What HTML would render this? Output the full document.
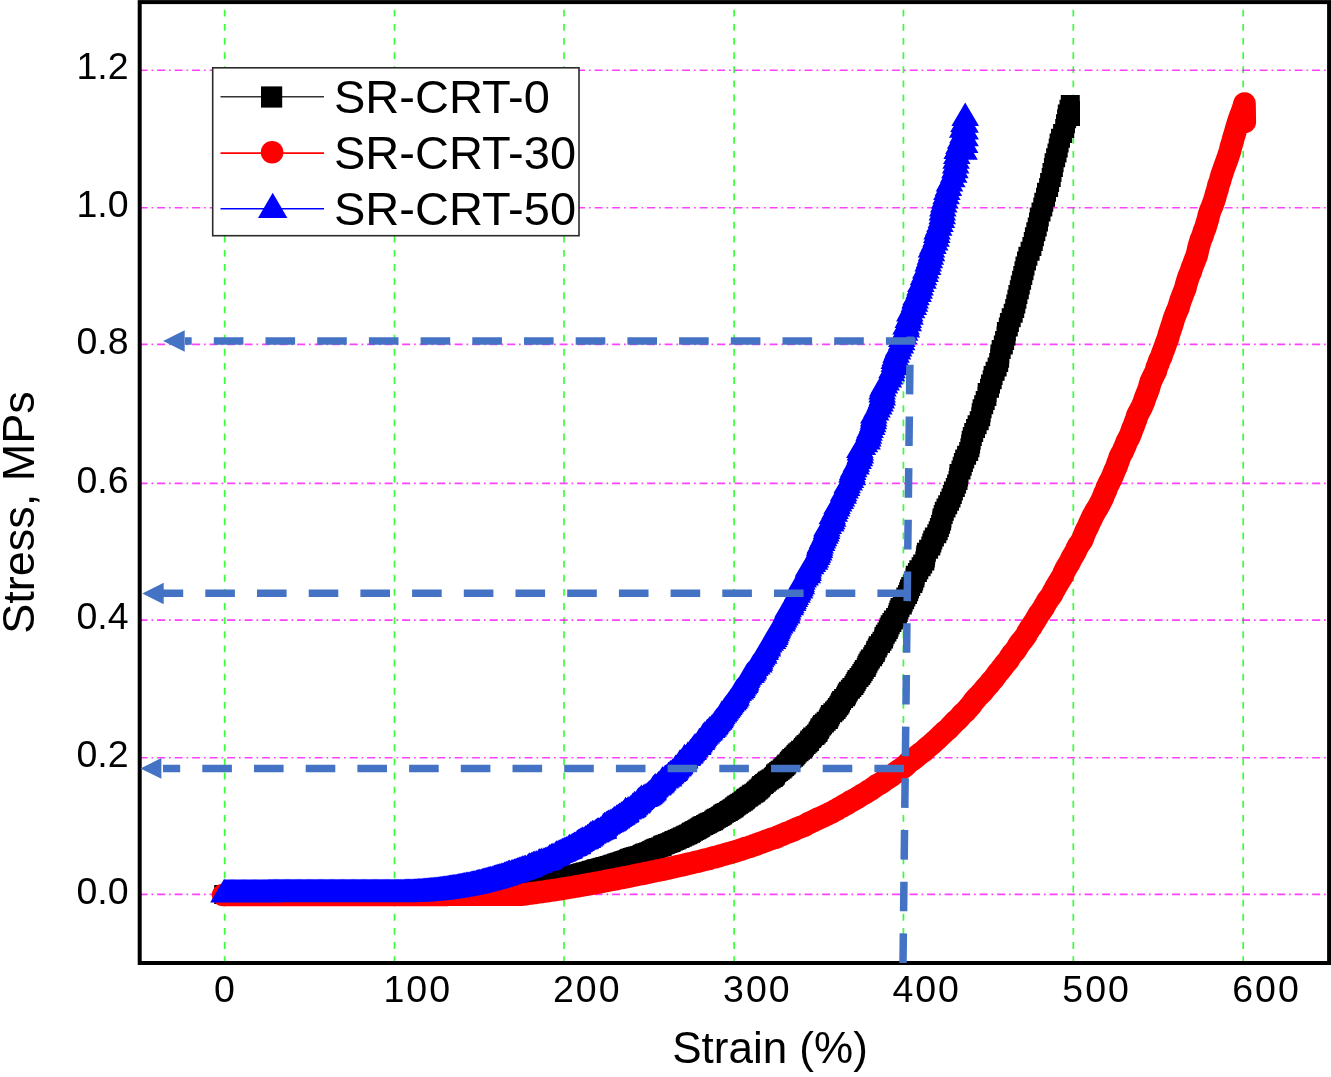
<!DOCTYPE html>
<html><head><meta charset="utf-8"><title>Stress-Strain</title>
<style>html,body{margin:0;padding:0;background:#fff}svg{display:block;filter:blur(0.45px)}text{font-family:"Liberation Sans",sans-serif;fill:#000}</style></head><body>
<svg width="1331" height="1077" viewBox="0 0 1331 1077">
<rect width="1331" height="1077" fill="#fff"/>
<g stroke="#00ff00" stroke-width="1.7" stroke-opacity="0.78" stroke-dasharray="6.8 7.325" fill="none">
<path d="M224.7,963V1.5"/>
<path d="M394.5,963V1.5"/>
<path d="M564,963V1.5"/>
<path d="M734.1,963V1.5"/>
<path d="M903.4,963V1.5"/>
<path d="M1073.3,963V1.5"/>
<path d="M1243.2,963V1.5"/>
</g>
<g stroke="#ff00ff" stroke-width="1.6" stroke-opacity="0.75" stroke-dasharray="8 3.9 1.7 3.9" fill="none">
<path d="M139.6,894.4H1329"/>
<path d="M139.6,757.8H1329"/>
<path d="M139.6,620.1H1329"/>
<path d="M139.6,483.4H1329"/>
<path d="M139.6,344.4H1329"/>
<path d="M139.6,207.8H1329"/>
<path d="M139.6,70.2H1329"/>
</g>
<path d="M214.2,885h19v19h-19zM214.6,885h19v19h-19zM215.9,885h19v19h-19zM217.3,885h19v19h-19zM218.6,885h19v19h-19zM220,885h19v19h-19zM221.3,885h19v19h-19zM222.7,885h19v19h-19zM224,885h19v19h-19zM225.4,885h19v19h-19zM226.7,885h19v19h-19zM228.1,885h19v19h-19zM229.4,885h19v19h-19zM230.8,885h19v19h-19zM232.1,885h19v19h-19zM233.5,885h19v19h-19zM234.8,885h19v19h-19zM236.2,885h19v19h-19zM237.5,885h19v19h-19zM238.9,885h19v19h-19zM240.2,885h19v19h-19zM241.6,885h19v19h-19zM242.9,885h19v19h-19zM244.3,885h19v19h-19zM245.6,885h19v19h-19zM247,885h19v19h-19zM248.3,885h19v19h-19zM249.7,885h19v19h-19zM251,885h19v19h-19zM252.4,885h19v19h-19zM253.7,885h19v19h-19zM255.1,885h19v19h-19zM256.4,885h19v19h-19zM257.8,885h19v19h-19zM259.1,885h19v19h-19zM260.5,885h19v19h-19zM261.8,885h19v19h-19zM263.2,885h19v19h-19zM264.5,885h19v19h-19zM265.9,885h19v19h-19zM267.2,885h19v19h-19zM268.6,885h19v19h-19zM269.9,885h19v19h-19zM271.3,885h19v19h-19zM272.6,885h19v19h-19zM274,885h19v19h-19zM275.3,885h19v19h-19zM276.7,885h19v19h-19zM278,885h19v19h-19zM279.4,885h19v19h-19zM280.7,885h19v19h-19zM282.1,885h19v19h-19zM283.4,885h19v19h-19zM284.8,885h19v19h-19zM286.1,885h19v19h-19zM287.5,885h19v19h-19zM288.8,885h19v19h-19zM290.2,885h19v19h-19zM291.5,885h19v19h-19zM292.9,885h19v19h-19zM294.2,885h19v19h-19zM295.6,885h19v19h-19zM296.9,885h19v19h-19zM298.3,885h19v19h-19zM299.6,885h19v19h-19zM301,885h19v19h-19zM302.3,885h19v19h-19zM303.7,885h19v19h-19zM305,885h19v19h-19zM306.4,885h19v19h-19zM307.7,885h19v19h-19zM309.1,885h19v19h-19zM310.4,885h19v19h-19zM311.8,885h19v19h-19zM313.1,885h19v19h-19zM314.5,885h19v19h-19zM315.8,885h19v19h-19zM317.2,885h19v19h-19zM318.5,885h19v19h-19zM319.9,885h19v19h-19zM321.2,885h19v19h-19zM322.6,885h19v19h-19zM323.9,885h19v19h-19zM325.3,885h19v19h-19zM326.6,885h19v19h-19zM328,885h19v19h-19zM329.3,885h19v19h-19zM330.7,885h19v19h-19zM332,885h19v19h-19zM333.4,885h19v19h-19zM334.7,885h19v19h-19zM336.1,885h19v19h-19zM337.4,885h19v19h-19zM338.8,885h19v19h-19zM340.1,885h19v19h-19zM341.5,885h19v19h-19zM342.8,885h19v19h-19zM344.2,885h19v19h-19zM345.5,885h19v19h-19zM346.9,885h19v19h-19zM348.2,885h19v19h-19zM349.6,885h19v19h-19zM350.9,885h19v19h-19zM352.3,885h19v19h-19zM353.6,885h19v19h-19zM355,885h19v19h-19zM356.3,885h19v19h-19zM357.7,885h19v19h-19zM359,885h19v19h-19zM360.4,885h19v19h-19zM361.7,885h19v19h-19zM363.1,885h19v19h-19zM364.4,885h19v19h-19zM365.8,885h19v19h-19zM367.1,885h19v19h-19zM368.5,885h19v19h-19zM369.8,885h19v19h-19zM371.2,885h19v19h-19zM372.5,885h19v19h-19zM373.9,885h19v19h-19zM375.2,885h19v19h-19zM376.6,885h19v19h-19zM377.9,885h19v19h-19zM379.3,885h19v19h-19zM380.6,885h19v19h-19zM382,885h19v19h-19zM383.3,885h19v19h-19zM384.7,885h19v19h-19zM386,885h19v19h-19zM387.4,885h19v19h-19zM388.7,885h19v19h-19zM390.1,885h19v19h-19zM391.4,885h19v19h-19zM392.8,885h19v19h-19zM394.1,885h19v19h-19zM395.5,885h19v19h-19zM396.8,885h19v19h-19zM398.2,885h19v19h-19zM399.5,885h19v19h-19zM400.9,885h19v19h-19zM402.2,885h19v19h-19zM403.6,885h19v19h-19zM404.9,885h19v19h-19zM406.3,885h19v19h-19zM407.6,885h19v19h-19zM409,885h19v19h-19zM410.3,885h19v19h-19zM411.7,885h19v19h-19zM413,884.9h19v19h-19zM414.4,884.9h19v19h-19zM415.7,884.8h19v19h-19zM417.1,884.8h19v19h-19zM418.4,884.8h19v19h-19zM419.8,884.7h19v19h-19zM421.1,884.7h19v19h-19zM422.5,884.6h19v19h-19zM423.8,884.6h19v19h-19zM425.2,884.5h19v19h-19zM426.5,884.4h19v19h-19zM427.9,884.4h19v19h-19zM429.2,884.3h19v19h-19zM430.6,884.2h19v19h-19zM431.9,884.2h19v19h-19zM433.2,884.1h19v19h-19zM434.6,884h19v19h-19zM435.9,884h19v19h-19zM437.3,883.9h19v19h-19zM438.6,883.8h19v19h-19zM440,883.7h19v19h-19zM441.4,883.6h19v19h-19zM442.7,883.5h19v19h-19zM444.1,883.5h19v19h-19zM445.5,883.4h19v19h-19zM446.8,883.3h19v19h-19zM448.1,883.2h19v19h-19zM449.4,883.1h19v19h-19zM450.8,883h19v19h-19zM452.2,882.9h19v19h-19zM453.5,882.8h19v19h-19zM454.8,882.7h19v19h-19zM456.1,882.6h19v19h-19zM457.5,882.4h19v19h-19zM458.8,882.3h19v19h-19zM460.2,882.2h19v19h-19zM461.5,882.1h19v19h-19zM462.8,882h19v19h-19zM464.2,881.8h19v19h-19zM465.6,881.7h19v19h-19zM467,881.6h19v19h-19zM468.4,881.5h19v19h-19zM469.7,881.3h19v19h-19zM471,881.2h19v19h-19zM472.3,881.1h19v19h-19zM473.7,880.9h19v19h-19zM475.2,880.8h19v19h-19zM476.7,880.6h19v19h-19zM477.8,880.5h19v19h-19zM479.1,880.3h19v19h-19zM480.3,880.2h19v19h-19zM481.6,880h19v19h-19zM482.9,879.9h19v19h-19zM484.3,879.7h19v19h-19zM485.7,879.5h19v19h-19zM487.1,879.4h19v19h-19zM488.4,879.2h19v19h-19zM489.9,879h19v19h-19zM491.3,878.9h19v19h-19zM492.7,878.7h19v19h-19zM493.8,878.5h19v19h-19zM495.3,878.3h19v19h-19zM496.7,878.2h19v19h-19zM498.2,878h19v19h-19zM499.5,877.8h19v19h-19zM500.7,877.6h19v19h-19zM501.9,877.4h19v19h-19zM503.3,877.2h19v19h-19zM504.9,877h19v19h-19zM506.5,876.8h19v19h-19zM507.9,876.6h19v19h-19zM509.1,876.4h19v19h-19zM510.1,876.2h19v19h-19zM511.5,876h19v19h-19zM512.7,875.8h19v19h-19zM514.1,875.6h19v19h-19zM515.3,875.3h19v19h-19zM517,875.1h19v19h-19zM518.7,874.9h19v19h-19zM519.9,874.7h19v19h-19zM521,874.4h19v19h-19zM521.9,874.2h19v19h-19zM523.5,874h19v19h-19zM525.3,873.7h19v19h-19zM526.7,873.5h19v19h-19zM528.1,873.2h19v19h-19zM529.1,873h19v19h-19zM530.5,872.8h19v19h-19zM531.6,872.5h19v19h-19zM532.8,872.2h19v19h-19zM534.2,872h19v19h-19zM535.3,871.7h19v19h-19zM537.1,871.5h19v19h-19zM538.5,871.2h19v19h-19zM540.3,870.9h19v19h-19zM541.8,870.7h19v19h-19zM543,870.4h19v19h-19zM544,870.1h19v19h-19zM545.3,869.8h19v19h-19zM546.8,869.5h19v19h-19zM548,869.3h19v19h-19zM548.7,869h19v19h-19zM550.4,868.7h19v19h-19zM552.2,868.4h19v19h-19zM553.5,868.1h19v19h-19zM554.5,867.8h19v19h-19zM555.8,867.5h19v19h-19zM557.4,867.2h19v19h-19zM559.1,866.9h19v19h-19zM560.9,866.6h19v19h-19zM562,866.2h19v19h-19zM562.6,865.9h19v19h-19zM563.5,865.6h19v19h-19zM565.5,865.3h19v19h-19zM567.3,864.9h19v19h-19zM568.9,864.6h19v19h-19zM570,864.3h19v19h-19zM571,863.9h19v19h-19zM572.4,863.6h19v19h-19zM573.2,863.3h19v19h-19zM575,862.9h19v19h-19zM575.7,862.6h19v19h-19zM577.6,862.2h19v19h-19zM579.2,861.8h19v19h-19zM580.9,861.5h19v19h-19zM581.8,861.1h19v19h-19zM582.6,860.8h19v19h-19zM584.1,860.4h19v19h-19zM585.4,860h19v19h-19zM586.5,859.6h19v19h-19zM587.1,859.3h19v19h-19zM589.1,858.9h19v19h-19zM590.6,858.5h19v19h-19zM592.5,858.1h19v19h-19zM593.5,857.7h19v19h-19zM595.2,857.3h19v19h-19zM596.2,856.9h19v19h-19zM598.2,856.5h19v19h-19zM599.9,856.1h19v19h-19zM601.7,855.7h19v19h-19zM602.5,855.2h19v19h-19zM603.7,854.8h19v19h-19zM604.8,854.4h19v19h-19zM606.6,854h19v19h-19zM607.3,853.5h19v19h-19zM609.1,853.1h19v19h-19zM609.9,852.7h19v19h-19zM611.6,852.2h19v19h-19zM613.2,851.8h19v19h-19zM614.3,851.3h19v19h-19zM615.8,850.9h19v19h-19zM616.7,850.4h19v19h-19zM618.5,850h19v19h-19zM619.3,849.5h19v19h-19zM620.1,849h19v19h-19zM621.3,848.5h19v19h-19zM623,848.1h19v19h-19zM624.4,847.6h19v19h-19zM626.2,847.1h19v19h-19zM627.9,846.6h19v19h-19zM630.3,846.1h19v19h-19zM631.9,845.6h19v19h-19zM633.1,845.1h19v19h-19zM633.5,844.6h19v19h-19zM634.9,844.1h19v19h-19zM635.6,843.6h19v19h-19zM637.7,843h19v19h-19zM639,842.5h19v19h-19zM640.8,842h19v19h-19zM641.8,841.4h19v19h-19zM642.3,840.9h19v19h-19zM643.6,840.4h19v19h-19zM644.6,839.8h19v19h-19zM645.9,839.3h19v19h-19zM646.8,838.7h19v19h-19zM648.7,838.1h19v19h-19zM651,837.6h19v19h-19zM652.4,837h19v19h-19zM652.8,836.4h19v19h-19zM653.4,835.8h19v19h-19zM654.7,835.3h19v19h-19zM656.3,834.7h19v19h-19zM658,834.1h19v19h-19zM659.7,833.5h19v19h-19zM661.3,832.9h19v19h-19zM662.2,832.2h19v19h-19zM663.9,831.6h19v19h-19zM665.1,831h19v19h-19zM666.6,830.4h19v19h-19zM667.8,829.7h19v19h-19zM669.8,829.1h19v19h-19zM671,828.5h19v19h-19zM672.6,827.8h19v19h-19zM673.3,827.2h19v19h-19zM675.4,826.5h19v19h-19zM676.4,825.8h19v19h-19zM678,825.2h19v19h-19zM679.3,824.5h19v19h-19zM681,823.8h19v19h-19zM681.8,823.1h19v19h-19zM682.3,822.4h19v19h-19zM684,821.7h19v19h-19zM685.3,821h19v19h-19zM686.9,820.3h19v19h-19zM688.2,819.6h19v19h-19zM689.5,818.8h19v19h-19zM690.7,818.1h19v19h-19zM691.2,817.4h19v19h-19zM692.6,816.6h19v19h-19zM694.3,815.9h19v19h-19zM696.1,815.1h19v19h-19zM697.7,814.3h19v19h-19zM698.6,813.6h19v19h-19zM700.3,812.8h19v19h-19zM702.2,812h19v19h-19zM704.1,811.2h19v19h-19zM704.6,810.4h19v19h-19zM705.7,809.6h19v19h-19zM707.1,808.8h19v19h-19zM708.8,808h19v19h-19zM710.5,807.1h19v19h-19zM711.6,806.3h19v19h-19zM713,805.5h19v19h-19zM713.5,804.6h19v19h-19zM715,803.7h19v19h-19zM716.7,802.9h19v19h-19zM718.8,802h19v19h-19zM719.8,801.1h19v19h-19zM721.4,800.2h19v19h-19zM722.7,799.3h19v19h-19zM724.3,798.4h19v19h-19zM724.9,797.5h19v19h-19zM726.4,796.6h19v19h-19zM727.4,795.6h19v19h-19zM729,794.7h19v19h-19zM730.3,793.7h19v19h-19zM732.1,792.8h19v19h-19zM733.7,791.8h19v19h-19zM734.7,790.8h19v19h-19zM736,789.8h19v19h-19zM736.7,788.8h19v19h-19zM738.6,787.8h19v19h-19zM739.7,786.8h19v19h-19zM741.6,785.8h19v19h-19zM742.3,784.8h19v19h-19zM744.4,783.7h19v19h-19zM746,782.7h19v19h-19zM746.9,781.6h19v19h-19zM748.4,780.5h19v19h-19zM749.3,779.4h19v19h-19zM750.7,778.4h19v19h-19zM751.5,777.3h19v19h-19zM752.2,776.1h19v19h-19zM754.1,775h19v19h-19zM755.1,773.9h19v19h-19zM756.8,772.8h19v19h-19zM757.9,771.6h19v19h-19zM759.7,770.4h19v19h-19zM761.6,769.3h19v19h-19zM763.7,768.1h19v19h-19zM764.7,766.9h19v19h-19zM765.8,765.7h19v19h-19zM766,764.5h19v19h-19zM767.4,763.3h19v19h-19zM769.2,762h19v19h-19zM770.7,760.8h19v19h-19zM772.6,759.5h19v19h-19zM773.6,758.3h19v19h-19zM775.2,757h19v19h-19zM776.4,755.7h19v19h-19zM777.3,754.4h19v19h-19zM779.4,753.1h19v19h-19zM779.9,751.8h19v19h-19zM781.1,750.5h19v19h-19zM782.3,749.1h19v19h-19zM784,747.8h19v19h-19zM785.4,746.4h19v19h-19zM786.5,745h19v19h-19zM787.7,743.6h19v19h-19zM789.5,742.2h19v19h-19zM791.1,740.8h19v19h-19zM793.1,739.4h19v19h-19zM793.9,738h19v19h-19zM795.1,736.5h19v19h-19zM796.6,735.1h19v19h-19zM798.4,733.6h19v19h-19zM799.9,732.1h19v19h-19zM800.3,730.6h19v19h-19zM802.1,729.1h19v19h-19zM803.2,727.6h19v19h-19zM805.5,726.1h19v19h-19zM806.8,724.5h19v19h-19zM808.4,723h19v19h-19zM808.8,721.4h19v19h-19zM810.1,719.8h19v19h-19zM810.6,718.3h19v19h-19zM812.2,716.6h19v19h-19zM813.1,715h19v19h-19zM814.9,713.4h19v19h-19zM816.7,711.7h19v19h-19zM818.8,710.1h19v19h-19zM819.4,708.4h19v19h-19zM820.3,706.7h19v19h-19zM821,705h19v19h-19zM823.3,703.3h19v19h-19zM825,701.6h19v19h-19zM826.6,699.9h19v19h-19zM827.8,698.1h19v19h-19zM829.3,696.3h19v19h-19zM830.4,694.6h19v19h-19zM831,692.8h19v19h-19zM832.1,690.9h19v19h-19zM834.1,689.1h19v19h-19zM836.1,687.3h19v19h-19zM836.9,685.4h19v19h-19zM837.8,683.6h19v19h-19zM838.9,681.7h19v19h-19zM840.9,679.8h19v19h-19zM842.4,677.9h19v19h-19zM844.4,675.9h19v19h-19zM845.5,674h19v19h-19zM846.6,672h19v19h-19zM847.5,670.1h19v19h-19zM849.5,668.1h19v19h-19zM851.2,666.1h19v19h-19zM852.4,664h19v19h-19zM853.7,662h19v19h-19zM854.8,659.9h19v19h-19zM856.7,657.9h19v19h-19zM857.4,655.8h19v19h-19zM858.4,653.7h19v19h-19zM859.6,651.6h19v19h-19zM860.9,649.4h19v19h-19zM863.1,647.3h19v19h-19zM864.2,645.1h19v19h-19zM865.8,642.9h19v19h-19zM866.3,640.7h19v19h-19zM867.8,638.5h19v19h-19zM868.7,636.3h19v19h-19zM871,634h19v19h-19zM872.5,631.7h19v19h-19zM874.1,629.4h19v19h-19zM874.5,627.1h19v19h-19zM875.8,624.8h19v19h-19zM877.4,622.5h19v19h-19zM878.8,620.1h19v19h-19zM879.6,617.7h19v19h-19zM880.7,615.3h19v19h-19zM882.4,612.9h19v19h-19zM883.9,610.4h19v19h-19zM886.1,608h19v19h-19zM887.9,605.5h19v19h-19zM888.7,603h19v19h-19zM889.5,600.5h19v19h-19zM890.5,597.9h19v19h-19zM892.8,595.4h19v19h-19zM893.7,592.8h19v19h-19zM895.1,590.2h19v19h-19zM896.3,587.6h19v19h-19zM898,584.9h19v19h-19zM899.1,582.3h19v19h-19zM900,579.6h19v19h-19zM901.3,576.9h19v19h-19zM903.4,574.1h19v19h-19zM904.2,571.4h19v19h-19zM905.4,568.6h19v19h-19zM905.8,565.8h19v19h-19zM907.9,563h19v19h-19zM909.3,560.2h19v19h-19zM911.6,557.3h19v19h-19zM913.2,554.4h19v19h-19zM915.3,551.5h19v19h-19zM915.9,548.6h19v19h-19zM916.2,545.6h19v19h-19zM916.9,542.7h19v19h-19zM919.1,539.7h19v19h-19zM921.3,536.6h19v19h-19zM922.3,533.6h19v19h-19zM923.3,530.5h19v19h-19zM924.9,527.4h19v19h-19zM927.3,524.3h19v19h-19zM928.7,521.2h19v19h-19zM929.9,518h19v19h-19zM931.1,514.8h19v19h-19zM932.1,511.6h19v19h-19zM932.5,508.4h19v19h-19zM933.7,505.1h19v19h-19zM934.8,501.8h19v19h-19zM936.5,498.5h19v19h-19zM938.2,495.2h19v19h-19zM940,491.8h19v19h-19zM941.5,488.4h19v19h-19zM942.8,485h19v19h-19zM943.9,481.6h19v19h-19zM945.8,478.1h19v19h-19zM947.1,474.6h19v19h-19zM948.5,471.1h19v19h-19zM949.1,467.6h19v19h-19zM949.5,464h19v19h-19zM951.5,460.4h19v19h-19zM952.7,456.8h19v19h-19zM953.9,453.1h19v19h-19zM955.2,449.5h19v19h-19zM957.1,445.8h19v19h-19zM959.2,442.1h19v19h-19zM960.4,438.3h19v19h-19zM961.1,434.5h19v19h-19zM961.7,430.7h19v19h-19zM962.8,426.9h19v19h-19zM964.2,423h19v19h-19zM966,419.1h19v19h-19zM967.6,415.2h19v19h-19zM969.7,411.3h19v19h-19zM971.2,407.3h19v19h-19zM971.7,403.3h19v19h-19zM972.6,399.3h19v19h-19zM974.2,395.2h19v19h-19zM975.7,391.1h19v19h-19zM977.4,387h19v19h-19zM977.7,382.9h19v19h-19zM980,378.7h19v19h-19zM981,374.5h19v19h-19zM982.7,370.3h19v19h-19zM983.6,366.1h19v19h-19zM985.6,361.8h19v19h-19zM987.6,357.5h19v19h-19zM989.2,353.1h19v19h-19zM990.1,348.8h19v19h-19zM990.4,344.4h19v19h-19zM991.7,340h19v19h-19zM993.8,335.5h19v19h-19zM995.1,331h19v19h-19zM996.5,326.6h19v19h-19zM996.9,322h19v19h-19zM998.8,317.5h19v19h-19zM999.9,312.9h19v19h-19zM1001.7,308.3h19v19h-19zM1003.7,303.7h19v19h-19zM1005.2,299.1h19v19h-19zM1006.3,294.4h19v19h-19zM1007.4,289.7h19v19h-19zM1008.4,285h19v19h-19zM1009.8,280.3h19v19h-19zM1010.8,275.5h19v19h-19zM1012.1,270.8h19v19h-19zM1013.3,266h19v19h-19zM1014.5,261.2h19v19h-19zM1015.5,256.4h19v19h-19zM1017,251.5h19v19h-19zM1018.4,246.7h19v19h-19zM1020.6,241.8h19v19h-19zM1022.4,237h19v19h-19zM1023.8,232.1h19v19h-19zM1024.9,227.2h19v19h-19zM1026.3,222.3h19v19h-19zM1027.7,217.4h19v19h-19zM1029,212.4h19v19h-19zM1029.8,207.5h19v19h-19zM1031.5,202.6h19v19h-19zM1033.3,197.6h19v19h-19zM1034.3,192.7h19v19h-19zM1036,187.8h19v19h-19zM1037,182.8h19v19h-19zM1039.1,177.9h19v19h-19zM1040.1,172.9h19v19h-19zM1041.7,168h19v19h-19zM1042.5,163.1h19v19h-19zM1043.9,158.1h19v19h-19zM1044.6,153.2h19v19h-19zM1046.1,148.3h19v19h-19zM1047.5,143.4h19v19h-19zM1048.7,138.5h19v19h-19zM1049.6,133.6h19v19h-19zM1051,128.7h19v19h-19zM1053.1,123.9h19v19h-19zM1055.2,119h19v19h-19zM1056,114.2h19v19h-19zM1057.1,109.3h19v19h-19zM1057.8,104.5h19v19h-19zM1059.5,99.7h19v19h-19zM1060.8,95h19v19h-19zM1061,101h19v19h-19zM1061,107h19v19h-19z" fill="#000"/>
<path d="M223.1,895L223.9,895L225.3,895L226.6,895L228,895L229.3,895L230.7,895L232,895L233.4,895L234.7,895L236.1,895L237.4,895L238.8,895L240.1,895L241.5,895L242.8,895L244.2,895L245.5,895L246.9,895L248.2,895L249.6,895L250.9,895L252.3,895L253.6,895L255,895L256.3,895L257.7,895L259,895L260.4,895L261.7,895L263.1,895L264.4,895L265.8,895L267.1,895L268.5,895L269.8,895L271.2,895L272.5,895L273.9,895L275.2,895L276.6,895L277.9,895L279.3,895L280.6,895L282,895L283.3,895L284.7,895L286,895L287.4,895L288.7,895L290.1,895L291.4,895L292.8,895L294.1,895L295.5,895L296.8,895L298.2,894.9L299.5,894.9L300.9,894.9L302.2,894.9L303.6,894.9L304.9,894.9L306.3,894.9L307.6,894.9L309,894.9L310.3,894.9L311.7,894.9L313,894.9L314.4,894.9L315.7,894.9L317.1,894.9L318.4,894.9L319.8,894.9L321.1,894.9L322.5,894.9L323.8,894.9L325.2,894.9L326.5,894.9L327.9,894.9L329.2,894.9L330.6,894.9L331.9,894.9L333.3,894.9L334.6,894.9L336,894.9L337.3,894.9L338.7,894.9L340,894.9L341.4,894.9L342.7,894.9L344.1,894.9L345.4,894.9L346.8,894.9L348.1,894.9L349.5,894.9L350.8,894.9L352.2,894.9L353.5,894.9L354.9,894.9L356.2,894.9L357.6,894.9L358.9,894.9L360.3,894.9L361.6,894.9L363,894.9L364.3,894.9L365.7,894.9L367,894.9L368.4,894.9L369.7,894.9L371.1,894.9L372.4,894.9L373.8,894.9L375.1,894.9L376.5,894.9L377.8,894.9L379.2,894.9L380.5,894.9L381.9,894.9L383.2,894.9L384.6,894.9L385.9,894.9L387.3,894.9L388.6,894.9L390,894.9L391.3,894.9L392.7,894.9L394,894.9L395.4,894.9L396.7,894.9L398.1,894.9L399.4,894.9L400.8,894.9L402.1,894.9L403.5,894.9L404.8,894.9L406.2,894.9L407.5,894.9L408.9,894.9L410.2,894.9L411.6,894.9L412.9,894.9L414.3,894.9L415.6,894.9L417,894.9L418.3,894.9L419.7,894.9L421,894.9L422.4,894.9L423.7,894.9L425.1,894.9L426.4,894.9L427.8,894.9L429.1,894.9L430.5,894.9L431.8,894.9L433.2,894.9L434.5,894.9L435.9,894.9L437.2,894.9L438.6,894.9L439.9,894.9L441.3,894.9L442.6,894.9L444,894.9L445.3,894.9L446.7,894.9L448,894.8L449.4,894.8L450.7,894.8L452.1,894.8L453.4,894.8L454.8,894.8L456.1,894.8L457.5,894.8L458.8,894.8L460.2,894.8L461.5,894.8L462.9,894.8L464.2,894.8L465.6,894.8L466.9,894.8L468.3,894.8L469.6,894.8L471,894.8L472.3,894.8L473.7,894.8L475,894.8L476.4,894.8L477.7,894.8L479.1,894.8L480.4,894.8L481.8,894.8L483.1,894.8L484.5,894.8L485.8,894.8L487.2,894.8L488.5,894.8L489.9,894.8L491.2,894.8L492.6,894.8L493.9,894.8L495.3,894.8L496.6,894.8L498,894.8L499.3,894.8L500.7,894.8L502,894.8L503.4,894.8L504.7,894.8L506.1,894.8L507.4,894.8L508.8,894.8L510.1,894.8L511.5,894.8L512.8,894.8L514.2,894.8L515.5,894.8L516.9,894.8L518.2,894.8L519.6,894.8L520.9,894.7L522.3,894.5L523.6,894.4L525,894.2L526.3,894L527.7,893.9L529,893.7L530.3,893.5L531.7,893.3L533.1,893.2L534.4,893L535.8,892.8L537.1,892.6L538.5,892.4L539.8,892.2L541.2,892L542.5,891.8L543.8,891.6L545.2,891.4L546.6,891.2L547.9,891L549.4,890.8L550.7,890.6L552,890.4L553.4,890.2L554.7,890L556,889.8L557.3,889.6L558.7,889.4L560.1,889.2L561.5,889L562.8,888.7L564.1,888.5L565.3,888.3L566.7,888.1L568.2,887.8L569.7,887.6L571.1,887.4L572.4,887.2L573.7,886.9L575,886.7L576.2,886.5L577.4,886.2L578.9,886L580.2,885.8L581.6,885.5L582.8,885.3L584.2,885L585.7,884.8L586.9,884.6L588.3,884.3L589.7,884.1L591.3,883.8L592.7,883.6L594,883.3L595.1,883.1L596.6,882.8L598,882.6L599.4,882.3L600.5,882.1L601.7,881.8L603,881.6L604.4,881.3L605.7,881L607.1,880.8L608.4,880.5L609.9,880.3L611.2,880L612.5,879.7L613.9,879.5L615.3,879.2L616.8,879L618,878.7L619.5,878.4L620.8,878.2L622.3,877.9L623.6,877.6L625.1,877.3L626.6,877.1L628,876.8L629.3,876.5L630.6,876.3L631.6,876L633,875.7L634.1,875.4L635.5,875.2L636.6,874.9L638,874.6L639.2,874.4L640.8,874.1L642.4,873.8L644.1,873.5L645.2,873.2L646.5,873L647.9,872.7L649.2,872.4L650.3,872.1L651.3,871.9L652.9,871.6L654.2,871.3L655.7,871L657,870.7L658.6,870.4L660,870.2L661.6,869.9L662.6,869.6L664.1,869.3L665.5,869L667.1,868.7L668.1,868.4L669.6,868.1L670.8,867.8L672.3,867.5L673.3,867.2L674.6,866.9L676.1,866.6L677.4,866.3L678.6,866L679.8,865.7L681.5,865.4L683,865.1L684.1,864.8L685.2,864.5L686.4,864.2L687.8,863.8L689.5,863.5L690.9,863.2L692.6,862.9L693.5,862.6L694.7,862.2L696.3,861.9L698,861.6L699.4,861.2L700.5,860.9L701.5,860.6L702.8,860.2L704.3,859.9L705.9,859.5L707.7,859.2L709,858.9L709.9,858.5L710.9,858.1L712.1,857.8L713.9,857.4L715.4,857.1L716.7,856.7L718.1,856.3L719.2,856L720.5,855.6L721.5,855.2L723.4,854.8L724.8,854.4L726,854.1L726.9,853.7L728.6,853.3L730,852.9L731.6,852.5L732.7,852.1L734.4,851.7L735.3,851.3L737.1,850.8L738.1,850.4L739.8,850L741.1,849.6L742.5,849.1L743.5,848.7L744.7,848.3L746.2,847.8L747.8,847.4L749.2,847L750.6,846.5L751.9,846L753.1,845.6L754.4,845.1L755.7,844.7L756.9,844.2L758.1,843.7L759.4,843.2L760.8,842.8L762.4,842.3L763.7,841.8L765,841.3L766.2,840.8L767.7,840.3L769,839.8L770.3,839.3L771.8,838.8L773.4,838.3L775.1,837.8L776.7,837.2L777.9,836.7L778.9,836.2L780,835.6L781.2,835.1L782.9,834.6L784,834L785.3,833.5L786.5,832.9L788.2,832.3L789.6,831.8L791.1,831.2L792.3,830.6L793.9,830.1L794.7,829.5L796.4,828.9L797.4,828.3L798.9,827.7L800.3,827.1L802.2,826.5L803.9,825.9L805.2,825.3L806.1,824.7L806.9,824.1L808,823.5L809.2,822.8L811.1,822.2L812.2,821.6L813.7,820.9L814.6,820.3L816,819.6L817.4,819L818.7,818.3L820.6,817.6L822.1,817L823.6,816.3L824.9,815.6L826.3,814.9L827.7,814.3L829,813.6L830.5,812.9L832,812.2L833,811.5L834.4,810.8L835.9,810L837.3,809.3L838.1,808.6L839.4,807.9L840.9,807.1L842.4,806.4L843.5,805.6L844.7,804.9L846.5,804.1L847.7,803.4L848.9,802.6L849.7,801.8L851.1,801.1L852.9,800.3L854.4,799.5L855.8,798.7L857.2,797.9L858.4,797.1L859.6,796.3L860.9,795.5L862.3,794.6L864,793.8L865.4,793L866.8,792.1L867.9,791.3L869.1,790.4L870.8,789.6L872,788.7L873.2,787.9L874.3,787L875.6,786.1L876.8,785.2L878.6,784.3L880.3,783.4L881.8,782.5L883,781.6L884.1,780.7L885.4,779.8L886.5,778.8L888.2,777.9L889.6,777L891.1,776L892.4,775.1L893.7,774.1L895.2,773.1L896,772.2L897.7,771.2L899,770.2L900.8,769.2L902.3,768.2L903.6,767.2L905.1,766.1L906,765.1L907.2,764.1L908.1,763L909.3,762L910.6,760.9L912.3,759.9L914,758.8L915.1,757.7L916.6,756.6L917.6,755.5L919.2,754.4L920.4,753.3L922.2,752.2L923.8,751.1L924.9,749.9L925.9,748.8L927.3,747.6L928.7,746.5L930.3,745.3L931.6,744.1L933,742.9L934.4,741.7L935.5,740.5L937.1,739.3L938.2,738L939.6,736.8L940.8,735.6L942.1,734.3L943.6,733L944.7,731.7L946.3,730.5L947.9,729.2L949.2,727.9L950.5,726.5L951.6,725.2L953,723.9L954.3,722.5L955.5,721.2L957.3,719.8L958.6,718.4L960,717L961,715.6L962.3,714.2L963.8,712.8L965.7,711.4L966.7,709.9L968.1,708.5L969.4,707L970.8,705.5L971.9,704L972.9,702.5L974,701L975.3,699.5L976.6,698L978,696.4L979.7,694.9L981.1,693.3L982.8,691.8L983.8,690.2L985.1,688.6L986.6,687L988.1,685.3L989.6,683.7L990.7,682L992.1,680.4L993.7,678.7L994.9,677L996.2,675.3L997.4,673.6L998.7,671.9L1000.3,670.2L1001.5,668.4L1003,666.7L1004.2,664.9L1005.8,663.1L1007.4,661.3L1008.8,659.5L1009.7,657.7L1011,655.8L1012.2,654L1014.1,652.1L1015.5,650.3L1016.8,648.4L1017.8,646.5L1019.1,644.5L1020.4,642.6L1022.1,640.7L1023.6,638.7L1025.1,636.7L1026.4,634.8L1027.3,632.8L1028.7,630.7L1029.7,628.7L1031.5,626.7L1032.6,624.6L1033.9,622.6L1035.3,620.5L1036.5,618.4L1037.7,616.3L1038.9,614.1L1040.7,612L1042.1,609.8L1043.6,607.7L1044.6,605.5L1046,603.3L1047.2,601L1048.8,598.8L1050.5,596.6L1052,594.3L1053.1,592L1054.4,589.7L1055.6,587.4L1057,585.1L1058.4,582.7L1059.9,580.4L1061.3,578L1062.8,575.6L1063.6,573.2L1064.8,570.8L1066,568.4L1067.5,565.9L1069.1,563.4L1070.3,561L1071.5,558.4L1073,555.9L1074.5,553.4L1075.9,550.8L1076.9,548.3L1078.3,545.7L1080.1,543.1L1081.9,540.5L1083,537.9L1084,535.2L1085.1,532.5L1086.2,529.9L1087.7,527.2L1088.9,524.4L1090.2,521.7L1091.5,519L1092.7,516.2L1094.3,513.4L1095.8,510.6L1097.6,507.8L1099.2,505L1100.7,502.1L1102.1,499.3L1103.4,496.4L1104.4,493.5L1105.9,490.6L1106.8,487.7L1108.2,484.7L1109.7,481.8L1111.3,478.8L1112.6,475.8L1113.8,472.8L1115,469.8L1116.5,466.7L1117.4,463.7L1118.7,460.6L1119.6,457.5L1121.1,454.4L1122.9,451.3L1124.2,448.1L1125.6,445L1126.7,441.8L1128.5,438.6L1130.1,435.4L1131.3,432.2L1132.4,428.9L1133.8,425.7L1135,422.4L1136.2,419.1L1137.2,415.8L1138.8,412.5L1140.7,409.1L1142.3,405.7L1143.7,402.4L1144.8,399L1146.1,395.5L1147.5,392.1L1148.8,388.6L1149.7,385.2L1150.8,381.7L1152.4,378.1L1154.1,374.6L1155.9,371.1L1156.7,367.5L1158.3,363.9L1159.4,360.3L1161.3,356.7L1162.4,353L1163.9,349.4L1165.2,345.7L1166.5,342L1168,338.3L1168.9,334.5L1170.2,330.8L1171.4,327L1172.7,323.2L1173.7,319.4L1175.1,315.6L1176.6,311.8L1178.4,307.9L1179.5,304L1180.7,300.1L1182.2,296.2L1183.7,292.3L1185.3,288.4L1186.2,284.4L1187.4,280.4L1188.7,276.4L1190.5,272.4L1191.7,268.4L1193.3,264.4L1194.8,260.3L1196.5,256.2L1197.5,252.2L1198.4,248.1L1199.5,244L1200.8,239.8L1202.6,235.7L1203.8,231.6L1205.5,227.4L1206.7,223.2L1208,219L1208.9,214.9L1210.3,210.6L1212.1,206.4L1213.6,202.2L1215,198L1216.1,193.7L1217.5,189.5L1218.4,185.2L1220,181L1221.1,176.7L1222.5,172.4L1224,168.1L1225.6,163.8L1227.2,159.5L1228.6,155.2L1230,150.9L1231,146.6L1232.4,142.3L1233.4,138L1234.8,133.7L1236,129.4L1237.3,125L1238.6,120.7L1240.1,116.4L1241.8,112.1L1243.3,107.8L1244.5,103.5L1244.6,109.5L1244.7,116L1244.8,122" fill="none" stroke="#ff0000" stroke-width="22.6" stroke-linecap="round" stroke-linejoin="round"/>
<path d="M224,878.9l13.8,23.5h-27.6zM224.8,878.9l13.8,23.5h-27.6zM225.9,878.9l13.8,23.5h-27.6zM227,878.9l13.8,23.5h-27.6zM228.1,878.9l13.8,23.5h-27.6zM229.2,878.9l13.8,23.5h-27.6zM230.3,878.9l13.8,23.5h-27.6zM231.4,878.9l13.8,23.5h-27.6zM232.5,878.9l13.8,23.5h-27.6zM233.6,878.9l13.8,23.5h-27.6zM234.7,878.9l13.8,23.5h-27.6zM235.8,878.9l13.8,23.5h-27.6zM236.9,878.9l13.8,23.5h-27.6zM238,878.9l13.8,23.5h-27.6zM239.1,878.9l13.8,23.5h-27.6zM240.2,878.9l13.8,23.5h-27.6zM241.3,878.9l13.8,23.5h-27.6zM242.4,878.9l13.8,23.5h-27.6zM243.5,878.9l13.8,23.5h-27.6zM244.6,878.9l13.8,23.5h-27.6zM245.7,878.9l13.8,23.5h-27.6zM246.8,878.9l13.8,23.5h-27.6zM247.9,878.9l13.8,23.5h-27.6zM249,878.9l13.8,23.5h-27.6zM250.1,878.9l13.8,23.5h-27.6zM251.2,878.9l13.8,23.5h-27.6zM252.3,878.9l13.8,23.5h-27.6zM253.4,878.9l13.8,23.5h-27.6zM254.5,878.9l13.8,23.5h-27.6zM255.6,878.9l13.8,23.5h-27.6zM256.7,878.9l13.8,23.5h-27.6zM257.8,878.9l13.8,23.5h-27.6zM258.9,878.9l13.8,23.5h-27.6zM260,878.9l13.8,23.5h-27.6zM261.1,878.9l13.8,23.5h-27.6zM262.2,878.9l13.8,23.5h-27.6zM263.3,878.9l13.8,23.5h-27.6zM264.4,878.9l13.8,23.5h-27.6zM265.5,878.9l13.8,23.5h-27.6zM266.6,878.9l13.8,23.5h-27.6zM267.7,878.9l13.8,23.5h-27.6zM268.8,878.8l13.8,23.5h-27.6zM269.9,878.8l13.8,23.5h-27.6zM271,878.8l13.8,23.5h-27.6zM272.1,878.8l13.8,23.5h-27.6zM273.2,878.8l13.8,23.5h-27.6zM274.3,878.8l13.8,23.5h-27.6zM275.4,878.8l13.8,23.5h-27.6zM276.5,878.8l13.8,23.5h-27.6zM277.6,878.8l13.8,23.5h-27.6zM278.7,878.8l13.8,23.5h-27.6zM279.8,878.8l13.8,23.5h-27.6zM280.9,878.8l13.8,23.5h-27.6zM282,878.8l13.8,23.5h-27.6zM283.1,878.8l13.8,23.5h-27.6zM284.2,878.8l13.8,23.5h-27.6zM285.3,878.8l13.8,23.5h-27.6zM286.4,878.8l13.8,23.5h-27.6zM287.5,878.8l13.8,23.5h-27.6zM288.6,878.8l13.8,23.5h-27.6zM289.7,878.8l13.8,23.5h-27.6zM290.8,878.8l13.8,23.5h-27.6zM291.9,878.8l13.8,23.5h-27.6zM293,878.8l13.8,23.5h-27.6zM294.1,878.8l13.8,23.5h-27.6zM295.2,878.8l13.8,23.5h-27.6zM296.3,878.8l13.8,23.5h-27.6zM297.4,878.8l13.8,23.5h-27.6zM298.5,878.8l13.8,23.5h-27.6zM299.6,878.8l13.8,23.5h-27.6zM300.7,878.8l13.8,23.5h-27.6zM301.8,878.8l13.8,23.5h-27.6zM302.9,878.8l13.8,23.5h-27.6zM304,878.8l13.8,23.5h-27.6zM305.1,878.8l13.8,23.5h-27.6zM306.2,878.8l13.8,23.5h-27.6zM307.3,878.8l13.8,23.5h-27.6zM308.4,878.8l13.8,23.5h-27.6zM309.5,878.8l13.8,23.5h-27.6zM310.6,878.8l13.8,23.5h-27.6zM311.7,878.8l13.8,23.5h-27.6zM312.8,878.8l13.8,23.5h-27.6zM313.9,878.8l13.8,23.5h-27.6zM315,878.8l13.8,23.5h-27.6zM316.1,878.8l13.8,23.5h-27.6zM317.2,878.8l13.8,23.5h-27.6zM318.3,878.8l13.8,23.5h-27.6zM319.4,878.8l13.8,23.5h-27.6zM320.5,878.8l13.8,23.5h-27.6zM321.6,878.8l13.8,23.5h-27.6zM322.7,878.8l13.8,23.5h-27.6zM323.8,878.8l13.8,23.5h-27.6zM324.9,878.8l13.8,23.5h-27.6zM326,878.8l13.8,23.5h-27.6zM327.1,878.8l13.8,23.5h-27.6zM328.2,878.8l13.8,23.5h-27.6zM329.3,878.8l13.8,23.5h-27.6zM330.4,878.8l13.8,23.5h-27.6zM331.5,878.8l13.8,23.5h-27.6zM332.6,878.8l13.8,23.5h-27.6zM333.7,878.8l13.8,23.5h-27.6zM334.8,878.8l13.8,23.5h-27.6zM335.9,878.8l13.8,23.5h-27.6zM337,878.8l13.8,23.5h-27.6zM338.1,878.8l13.8,23.5h-27.6zM339.2,878.8l13.8,23.5h-27.6zM340.3,878.8l13.8,23.5h-27.6zM341.4,878.8l13.8,23.5h-27.6zM342.5,878.8l13.8,23.5h-27.6zM343.6,878.8l13.8,23.5h-27.6zM344.7,878.8l13.8,23.5h-27.6zM345.8,878.8l13.8,23.5h-27.6zM346.9,878.8l13.8,23.5h-27.6zM348,878.8l13.8,23.5h-27.6zM349.1,878.8l13.8,23.5h-27.6zM350.2,878.8l13.8,23.5h-27.6zM351.3,878.8l13.8,23.5h-27.6zM352.4,878.8l13.8,23.5h-27.6zM353.5,878.8l13.8,23.5h-27.6zM354.6,878.8l13.8,23.5h-27.6zM355.7,878.8l13.8,23.5h-27.6zM356.8,878.7l13.8,23.5h-27.6zM357.9,878.7l13.8,23.5h-27.6zM359,878.7l13.8,23.5h-27.6zM360.1,878.7l13.8,23.5h-27.6zM361.2,878.7l13.8,23.5h-27.6zM362.3,878.7l13.8,23.5h-27.6zM363.4,878.7l13.8,23.5h-27.6zM364.5,878.7l13.8,23.5h-27.6zM365.6,878.7l13.8,23.5h-27.6zM366.7,878.7l13.8,23.5h-27.6zM367.8,878.7l13.8,23.5h-27.6zM368.9,878.7l13.8,23.5h-27.6zM370,878.7l13.8,23.5h-27.6zM371.1,878.7l13.8,23.5h-27.6zM372.2,878.7l13.8,23.5h-27.6zM373.3,878.7l13.8,23.5h-27.6zM374.4,878.7l13.8,23.5h-27.6zM375.5,878.7l13.8,23.5h-27.6zM376.6,878.7l13.8,23.5h-27.6zM377.7,878.7l13.8,23.5h-27.6zM378.8,878.7l13.8,23.5h-27.6zM379.9,878.7l13.8,23.5h-27.6zM381,878.7l13.8,23.5h-27.6zM382.1,878.7l13.8,23.5h-27.6zM383.2,878.7l13.8,23.5h-27.6zM384.3,878.7l13.8,23.5h-27.6zM385.4,878.7l13.8,23.5h-27.6zM386.5,878.7l13.8,23.5h-27.6zM387.6,878.7l13.8,23.5h-27.6zM388.7,878.7l13.8,23.5h-27.6zM389.8,878.7l13.8,23.5h-27.6zM390.9,878.7l13.8,23.5h-27.6zM392,878.7l13.8,23.5h-27.6zM393.1,878.7l13.8,23.5h-27.6zM394.2,878.7l13.8,23.5h-27.6zM395.3,878.7l13.8,23.5h-27.6zM396.4,878.7l13.8,23.5h-27.6zM397.5,878.7l13.8,23.5h-27.6zM398.6,878.7l13.8,23.5h-27.6zM399.7,878.7l13.8,23.5h-27.6zM400.8,878.7l13.8,23.5h-27.6zM401.9,878.7l13.8,23.5h-27.6zM403,878.7l13.8,23.5h-27.6zM404.1,878.7l13.8,23.5h-27.6zM405.2,878.6l13.8,23.5h-27.6zM406.3,878.6l13.8,23.5h-27.6zM407.4,878.6l13.8,23.5h-27.6zM408.5,878.5l13.8,23.5h-27.6zM409.6,878.5l13.8,23.5h-27.6zM410.7,878.5l13.8,23.5h-27.6zM411.8,878.4l13.8,23.5h-27.6zM412.9,878.4l13.8,23.5h-27.6zM414,878.3l13.8,23.5h-27.6zM415.2,878.3l13.8,23.5h-27.6zM416.2,878.2l13.8,23.5h-27.6zM417.3,878.2l13.8,23.5h-27.6zM418.4,878.1l13.8,23.5h-27.6zM419.6,878l13.8,23.5h-27.6zM420.7,878l13.8,23.5h-27.6zM421.8,877.9l13.8,23.5h-27.6zM422.8,877.8l13.8,23.5h-27.6zM423.9,877.7l13.8,23.5h-27.6zM424.9,877.6l13.8,23.5h-27.6zM426,877.5l13.8,23.5h-27.6zM427.1,877.4l13.8,23.5h-27.6zM428.2,877.3l13.8,23.5h-27.6zM429.4,877.2l13.8,23.5h-27.6zM430.4,877.1l13.8,23.5h-27.6zM431.6,877l13.8,23.5h-27.6zM432.6,876.9l13.8,23.5h-27.6zM433.8,876.8l13.8,23.5h-27.6zM434.8,876.7l13.8,23.5h-27.6zM435.9,876.6l13.8,23.5h-27.6zM437.1,876.4l13.8,23.5h-27.6zM438.3,876.3l13.8,23.5h-27.6zM439.5,876.2l13.8,23.5h-27.6zM440.5,876l13.8,23.5h-27.6zM441.6,875.9l13.8,23.5h-27.6zM442.6,875.7l13.8,23.5h-27.6zM443.7,875.6l13.8,23.5h-27.6zM444.7,875.4l13.8,23.5h-27.6zM445.9,875.3l13.8,23.5h-27.6zM447.1,875.1l13.8,23.5h-27.6zM448.4,875l13.8,23.5h-27.6zM449.3,874.8l13.8,23.5h-27.6zM450.2,874.6l13.8,23.5h-27.6zM451.2,874.5l13.8,23.5h-27.6zM452.3,874.3l13.8,23.5h-27.6zM453.5,874.1l13.8,23.5h-27.6zM454.7,873.9l13.8,23.5h-27.6zM455.9,873.7l13.8,23.5h-27.6zM457.1,873.5l13.8,23.5h-27.6zM458.2,873.3l13.8,23.5h-27.6zM459.2,873.1l13.8,23.5h-27.6zM460.3,872.9l13.8,23.5h-27.6zM461.4,872.7l13.8,23.5h-27.6zM462.6,872.5l13.8,23.5h-27.6zM463.6,872.3l13.8,23.5h-27.6zM464.6,872.1l13.8,23.5h-27.6zM465.9,871.9l13.8,23.5h-27.6zM466.7,871.6l13.8,23.5h-27.6zM467.8,871.4l13.8,23.5h-27.6zM469,871.2l13.8,23.5h-27.6zM470.5,870.9l13.8,23.5h-27.6zM471.6,870.7l13.8,23.5h-27.6zM472.6,870.5l13.8,23.5h-27.6zM473.6,870.2l13.8,23.5h-27.6zM474.8,870l13.8,23.5h-27.6zM476.2,869.7l13.8,23.5h-27.6zM477,869.5l13.8,23.5h-27.6zM477.5,869.2l13.8,23.5h-27.6zM478.5,868.9l13.8,23.5h-27.6zM479.6,868.7l13.8,23.5h-27.6zM481.1,868.4l13.8,23.5h-27.6zM482.4,868.1l13.8,23.5h-27.6zM483.6,867.8l13.8,23.5h-27.6zM484.5,867.6l13.8,23.5h-27.6zM485.2,867.3l13.8,23.5h-27.6zM486.5,867l13.8,23.5h-27.6zM487.5,866.7l13.8,23.5h-27.6zM488.5,866.4l13.8,23.5h-27.6zM489.1,866.1l13.8,23.5h-27.6zM490.7,865.8l13.8,23.5h-27.6zM492.2,865.5l13.8,23.5h-27.6zM493.6,865.2l13.8,23.5h-27.6zM494.4,864.8l13.8,23.5h-27.6zM495.2,864.5l13.8,23.5h-27.6zM496.1,864.2l13.8,23.5h-27.6zM497.1,863.9l13.8,23.5h-27.6zM498,863.5l13.8,23.5h-27.6zM499.3,863.2l13.8,23.5h-27.6zM500.2,862.9l13.8,23.5h-27.6zM501.8,862.5l13.8,23.5h-27.6zM503,862.2l13.8,23.5h-27.6zM504.4,861.8l13.8,23.5h-27.6zM504.7,861.5l13.8,23.5h-27.6zM506,861.1l13.8,23.5h-27.6zM506.9,860.7l13.8,23.5h-27.6zM508,860.4l13.8,23.5h-27.6zM508.3,860l13.8,23.5h-27.6zM509.3,859.6l13.8,23.5h-27.6zM511.4,859.3l13.8,23.5h-27.6zM512.7,858.9l13.8,23.5h-27.6zM514.1,858.5l13.8,23.5h-27.6zM515.1,858.1l13.8,23.5h-27.6zM516.7,857.7l13.8,23.5h-27.6zM517.6,857.3l13.8,23.5h-27.6zM518.1,856.9l13.8,23.5h-27.6zM519.6,856.5l13.8,23.5h-27.6zM521,856.1l13.8,23.5h-27.6zM522.6,855.7l13.8,23.5h-27.6zM522.4,855.3l13.8,23.5h-27.6zM524.1,854.9l13.8,23.5h-27.6zM525.3,854.4l13.8,23.5h-27.6zM527.6,854l13.8,23.5h-27.6zM528.6,853.6l13.8,23.5h-27.6zM529.1,853.2l13.8,23.5h-27.6zM528.9,852.7l13.8,23.5h-27.6zM529.7,852.3l13.8,23.5h-27.6zM531.4,851.8l13.8,23.5h-27.6zM532.8,851.4l13.8,23.5h-27.6zM533.4,850.9l13.8,23.5h-27.6zM534.2,850.5l13.8,23.5h-27.6zM536.2,850l13.8,23.5h-27.6zM538.4,849.5l13.8,23.5h-27.6zM538.8,849.1l13.8,23.5h-27.6zM538.9,848.6l13.8,23.5h-27.6zM539.9,848.1l13.8,23.5h-27.6zM541.8,847.6l13.8,23.5h-27.6zM543.9,847.2l13.8,23.5h-27.6zM545.3,846.7l13.8,23.5h-27.6zM546.9,846.2l13.8,23.5h-27.6zM548.2,845.7l13.8,23.5h-27.6zM548.9,845.2l13.8,23.5h-27.6zM549.1,844.7l13.8,23.5h-27.6zM549.9,844.2l13.8,23.5h-27.6zM549.9,843.7l13.8,23.5h-27.6zM551.7,843.1l13.8,23.5h-27.6zM553,842.6l13.8,23.5h-27.6zM555,842.1l13.8,23.5h-27.6zM555.5,841.6l13.8,23.5h-27.6zM556,841l13.8,23.5h-27.6zM556.6,840.5l13.8,23.5h-27.6zM557,839.9l13.8,23.5h-27.6zM558.9,839.4l13.8,23.5h-27.6zM560.2,838.8l13.8,23.5h-27.6zM561.9,838.3l13.8,23.5h-27.6zM562.5,837.7l13.8,23.5h-27.6zM563.9,837.2l13.8,23.5h-27.6zM565,836.6l13.8,23.5h-27.6zM566.6,836l13.8,23.5h-27.6zM568,835.5l13.8,23.5h-27.6zM569.1,834.9l13.8,23.5h-27.6zM569,834.3l13.8,23.5h-27.6zM569.9,833.7l13.8,23.5h-27.6zM572,833.1l13.8,23.5h-27.6zM573.1,832.5l13.8,23.5h-27.6zM574.1,831.9l13.8,23.5h-27.6zM574.9,831.3l13.8,23.5h-27.6zM577.4,830.7l13.8,23.5h-27.6zM577.4,830.1l13.8,23.5h-27.6zM577.3,829.5l13.8,23.5h-27.6zM578.5,828.8l13.8,23.5h-27.6zM579.6,828.2l13.8,23.5h-27.6zM580.8,827.6l13.8,23.5h-27.6zM581.2,827l13.8,23.5h-27.6zM582.9,826.3l13.8,23.5h-27.6zM585,825.7l13.8,23.5h-27.6zM585.4,825l13.8,23.5h-27.6zM587.3,824.4l13.8,23.5h-27.6zM587.5,823.7l13.8,23.5h-27.6zM589.6,823l13.8,23.5h-27.6zM589.3,822.4l13.8,23.5h-27.6zM590.8,821.7l13.8,23.5h-27.6zM590.6,821l13.8,23.5h-27.6zM592.2,820.3l13.8,23.5h-27.6zM593,819.7l13.8,23.5h-27.6zM595.3,819l13.8,23.5h-27.6zM596.6,818.3l13.8,23.5h-27.6zM597.3,817.6l13.8,23.5h-27.6zM598.8,816.9l13.8,23.5h-27.6zM600.7,816.2l13.8,23.5h-27.6zM603.2,815.4l13.8,23.5h-27.6zM603.1,814.7l13.8,23.5h-27.6zM603.3,814l13.8,23.5h-27.6zM603.2,813.3l13.8,23.5h-27.6zM604.1,812.5l13.8,23.5h-27.6zM604.6,811.8l13.8,23.5h-27.6zM606.2,811.1l13.8,23.5h-27.6zM607.3,810.3l13.8,23.5h-27.6zM608.6,809.6l13.8,23.5h-27.6zM610.3,808.8l13.8,23.5h-27.6zM612.1,808l13.8,23.5h-27.6zM613.2,807.3l13.8,23.5h-27.6zM613.9,806.5l13.8,23.5h-27.6zM614.7,805.7l13.8,23.5h-27.6zM616.4,804.9l13.8,23.5h-27.6zM616.8,804.2l13.8,23.5h-27.6zM618.3,803.4l13.8,23.5h-27.6zM619.6,802.6l13.8,23.5h-27.6zM621.1,801.8l13.8,23.5h-27.6zM622,801l13.8,23.5h-27.6zM623.4,800.1l13.8,23.5h-27.6zM625.1,799.3l13.8,23.5h-27.6zM625.8,798.5l13.8,23.5h-27.6zM625.8,797.7l13.8,23.5h-27.6zM625.6,796.8l13.8,23.5h-27.6zM628.1,796l13.8,23.5h-27.6zM630.5,795.1l13.8,23.5h-27.6zM631.8,794.3l13.8,23.5h-27.6zM632.9,793.4l13.8,23.5h-27.6zM632.8,792.6l13.8,23.5h-27.6zM634.3,791.7l13.8,23.5h-27.6zM634.6,790.8l13.8,23.5h-27.6zM636.9,790l13.8,23.5h-27.6zM637.2,789.1l13.8,23.5h-27.6zM638,788.2l13.8,23.5h-27.6zM638.6,787.3l13.8,23.5h-27.6zM639.7,786.4l13.8,23.5h-27.6zM640.7,785.5l13.8,23.5h-27.6zM641.6,784.6l13.8,23.5h-27.6zM644.1,783.6l13.8,23.5h-27.6zM646.1,782.7l13.8,23.5h-27.6zM647.8,781.8l13.8,23.5h-27.6zM648.7,780.8l13.8,23.5h-27.6zM649.7,779.9l13.8,23.5h-27.6zM650.8,778.9l13.8,23.5h-27.6zM651.8,778l13.8,23.5h-27.6zM652.9,777l13.8,23.5h-27.6zM653.1,776.1l13.8,23.5h-27.6zM653.3,775.1l13.8,23.5h-27.6zM654.4,774.1l13.8,23.5h-27.6zM655.3,773.1l13.8,23.5h-27.6zM657.7,772.1l13.8,23.5h-27.6zM658.5,771.1l13.8,23.5h-27.6zM659.9,770.1l13.8,23.5h-27.6zM661,769.1l13.8,23.5h-27.6zM661.4,768.1l13.8,23.5h-27.6zM662.8,767l13.8,23.5h-27.6zM662.5,766l13.8,23.5h-27.6zM664.9,765l13.8,23.5h-27.6zM666.1,763.9l13.8,23.5h-27.6zM668.5,762.9l13.8,23.5h-27.6zM668.4,761.8l13.8,23.5h-27.6zM669.9,760.7l13.8,23.5h-27.6zM670.8,759.7l13.8,23.5h-27.6zM672.5,758.6l13.8,23.5h-27.6zM673.9,757.5l13.8,23.5h-27.6zM674.5,756.4l13.8,23.5h-27.6zM675.2,755.3l13.8,23.5h-27.6zM675.9,754.2l13.8,23.5h-27.6zM677.7,753l13.8,23.5h-27.6zM678.6,751.9l13.8,23.5h-27.6zM679.7,750.8l13.8,23.5h-27.6zM679.7,749.6l13.8,23.5h-27.6zM681.2,748.5l13.8,23.5h-27.6zM682.5,747.3l13.8,23.5h-27.6zM683.3,746.2l13.8,23.5h-27.6zM684.7,745l13.8,23.5h-27.6zM684.5,743.8l13.8,23.5h-27.6zM687.2,742.6l13.8,23.5h-27.6zM687.8,741.4l13.8,23.5h-27.6zM689.6,740.2l13.8,23.5h-27.6zM690.3,739l13.8,23.5h-27.6zM691.5,737.8l13.8,23.5h-27.6zM693.1,736.6l13.8,23.5h-27.6zM693.1,735.4l13.8,23.5h-27.6zM694.3,734.1l13.8,23.5h-27.6zM695.1,732.9l13.8,23.5h-27.6zM697.7,731.6l13.8,23.5h-27.6zM697.9,730.4l13.8,23.5h-27.6zM698.8,729.1l13.8,23.5h-27.6zM699.4,727.8l13.8,23.5h-27.6zM701.3,726.5l13.8,23.5h-27.6zM701.8,725.2l13.8,23.5h-27.6zM702.8,723.9l13.8,23.5h-27.6zM703.4,722.6l13.8,23.5h-27.6zM704.7,721.3l13.8,23.5h-27.6zM706.3,719.9l13.8,23.5h-27.6zM707.3,718.6l13.8,23.5h-27.6zM708.9,717.3l13.8,23.5h-27.6zM709.8,715.9l13.8,23.5h-27.6zM711.7,714.5l13.8,23.5h-27.6zM713,713.2l13.8,23.5h-27.6zM714.2,711.8l13.8,23.5h-27.6zM714.9,710.4l13.8,23.5h-27.6zM716.1,709l13.8,23.5h-27.6zM717.2,707.6l13.8,23.5h-27.6zM718.7,706.2l13.8,23.5h-27.6zM719.8,704.8l13.8,23.5h-27.6zM720.2,703.3l13.8,23.5h-27.6zM721.1,701.9l13.8,23.5h-27.6zM721.8,700.4l13.8,23.5h-27.6zM723.5,699l13.8,23.5h-27.6zM724.3,697.5l13.8,23.5h-27.6zM725.5,696l13.8,23.5h-27.6zM726.6,694.5l13.8,23.5h-27.6zM727.9,693.1l13.8,23.5h-27.6zM728.8,691.5l13.8,23.5h-27.6zM730,690l13.8,23.5h-27.6zM730.9,688.5l13.8,23.5h-27.6zM732.9,687l13.8,23.5h-27.6zM733.9,685.4l13.8,23.5h-27.6zM735.1,683.9l13.8,23.5h-27.6zM736,682.3l13.8,23.5h-27.6zM735.8,680.8l13.8,23.5h-27.6zM736.8,679.2l13.8,23.5h-27.6zM738.2,677.6l13.8,23.5h-27.6zM740.2,676l13.8,23.5h-27.6zM741.6,674.4l13.8,23.5h-27.6zM742.3,672.8l13.8,23.5h-27.6zM743.6,671.1l13.8,23.5h-27.6zM744.7,669.5l13.8,23.5h-27.6zM745.4,667.9l13.8,23.5h-27.6zM745.7,666.2l13.8,23.5h-27.6zM746.3,664.5l13.8,23.5h-27.6zM747.2,662.9l13.8,23.5h-27.6zM748.7,661.2l13.8,23.5h-27.6zM751,659.5l13.8,23.5h-27.6zM752.2,657.8l13.8,23.5h-27.6zM753.3,656.1l13.8,23.5h-27.6zM753.4,654.3l13.8,23.5h-27.6zM754.8,652.6l13.8,23.5h-27.6zM756.8,650.9l13.8,23.5h-27.6zM758.8,649.1l13.8,23.5h-27.6zM759.5,647.3l13.8,23.5h-27.6zM759.5,645.6l13.8,23.5h-27.6zM760.6,643.8l13.8,23.5h-27.6zM761.9,642l13.8,23.5h-27.6zM763.7,640.2l13.8,23.5h-27.6zM763.4,638.4l13.8,23.5h-27.6zM765.1,636.5l13.8,23.5h-27.6zM765.6,634.7l13.8,23.5h-27.6zM767.4,632.9l13.8,23.5h-27.6zM767.4,631l13.8,23.5h-27.6zM768.7,629.1l13.8,23.5h-27.6zM770.3,627.3l13.8,23.5h-27.6zM772.5,625.4l13.8,23.5h-27.6zM773.7,623.5l13.8,23.5h-27.6zM774.7,621.6l13.8,23.5h-27.6zM775.2,619.7l13.8,23.5h-27.6zM776.1,617.7l13.8,23.5h-27.6zM776.8,615.8l13.8,23.5h-27.6zM777.5,613.9l13.8,23.5h-27.6zM778.5,611.9l13.8,23.5h-27.6zM779.8,609.9l13.8,23.5h-27.6zM781.9,608l13.8,23.5h-27.6zM782.6,606l13.8,23.5h-27.6zM783.7,604l13.8,23.5h-27.6zM784.9,602l13.8,23.5h-27.6zM786.7,600l13.8,23.5h-27.6zM786.6,597.9l13.8,23.5h-27.6zM787.5,595.9l13.8,23.5h-27.6zM788.2,593.8l13.8,23.5h-27.6zM790.3,591.8l13.8,23.5h-27.6zM790.9,589.7l13.8,23.5h-27.6zM792.7,587.6l13.8,23.5h-27.6zM793.1,585.6l13.8,23.5h-27.6zM794.4,583.5l13.8,23.5h-27.6zM795.3,581.4l13.8,23.5h-27.6zM797,579.2l13.8,23.5h-27.6zM797.7,577.1l13.8,23.5h-27.6zM799.5,575l13.8,23.5h-27.6zM800,572.8l13.8,23.5h-27.6zM801.3,570.7l13.8,23.5h-27.6zM801.2,568.5l13.8,23.5h-27.6zM801.9,566.3l13.8,23.5h-27.6zM803.2,564.1l13.8,23.5h-27.6zM805.2,561.9l13.8,23.5h-27.6zM807.4,559.7l13.8,23.5h-27.6zM808.1,557.5l13.8,23.5h-27.6zM808.1,555.2l13.8,23.5h-27.6zM808.6,553l13.8,23.5h-27.6zM810.7,550.7l13.8,23.5h-27.6zM812.4,548.5l13.8,23.5h-27.6zM814.5,546.2l13.8,23.5h-27.6zM815.4,543.9l13.8,23.5h-27.6zM816.7,541.6l13.8,23.5h-27.6zM817.5,539.3l13.8,23.5h-27.6zM818.8,536.9l13.8,23.5h-27.6zM819.4,534.6l13.8,23.5h-27.6zM819.7,532.3l13.8,23.5h-27.6zM820.2,529.9l13.8,23.5h-27.6zM821.6,527.5l13.8,23.5h-27.6zM822.5,525.1l13.8,23.5h-27.6zM823.6,522.8l13.8,23.5h-27.6zM824.9,520.3l13.8,23.5h-27.6zM826,517.9l13.8,23.5h-27.6zM826.6,515.5l13.8,23.5h-27.6zM826.9,513.1l13.8,23.5h-27.6zM828.3,510.6l13.8,23.5h-27.6zM830.8,508.1l13.8,23.5h-27.6zM831.6,505.7l13.8,23.5h-27.6zM832.6,503.2l13.8,23.5h-27.6zM832.3,500.7l13.8,23.5h-27.6zM834.2,498.2l13.8,23.5h-27.6zM835,495.6l13.8,23.5h-27.6zM836.6,493.1l13.8,23.5h-27.6zM837.1,490.6l13.8,23.5h-27.6zM838.7,488l13.8,23.5h-27.6zM840.3,485.4l13.8,23.5h-27.6zM841.5,482.9l13.8,23.5h-27.6zM843.2,480.3l13.8,23.5h-27.6zM843.6,477.7l13.8,23.5h-27.6zM845.1,475l13.8,23.5h-27.6zM846.6,472.4l13.8,23.5h-27.6zM847.2,469.8l13.8,23.5h-27.6zM849.2,467.1l13.8,23.5h-27.6zM850.4,464.5l13.8,23.5h-27.6zM852.4,461.8l13.8,23.5h-27.6zM852,459.1l13.8,23.5h-27.6zM852.7,456.4l13.8,23.5h-27.6zM853.7,453.7l13.8,23.5h-27.6zM856,450.9l13.8,23.5h-27.6zM856.4,448.2l13.8,23.5h-27.6zM858.1,445.5l13.8,23.5h-27.6zM859.4,442.7l13.8,23.5h-27.6zM860.3,439.9l13.8,23.5h-27.6zM860.3,437.1l13.8,23.5h-27.6zM859.9,434.4l13.8,23.5h-27.6zM862.3,431.5l13.8,23.5h-27.6zM864.4,428.7l13.8,23.5h-27.6zM867.1,425.9l13.8,23.5h-27.6zM867.9,423.1l13.8,23.5h-27.6zM868.5,420.2l13.8,23.5h-27.6zM869.1,417.3l13.8,23.5h-27.6zM870.1,414.5l13.8,23.5h-27.6zM871.7,411.6l13.8,23.5h-27.6zM872.7,408.7l13.8,23.5h-27.6zM873.4,405.8l13.8,23.5h-27.6zM873.7,402.9l13.8,23.5h-27.6zM873.8,399.9l13.8,23.5h-27.6zM875.6,397l13.8,23.5h-27.6zM877,394l13.8,23.5h-27.6zM878.8,391.1l13.8,23.5h-27.6zM880.1,388.1l13.8,23.5h-27.6zM881.3,385.1l13.8,23.5h-27.6zM882.3,382.1l13.8,23.5h-27.6zM882.1,379.1l13.8,23.5h-27.6zM882.1,376.1l13.8,23.5h-27.6zM882.9,373.1l13.8,23.5h-27.6zM884.4,370.1l13.8,23.5h-27.6zM886.1,367l13.8,23.5h-27.6zM888.4,364l13.8,23.5h-27.6zM889.5,360.9l13.8,23.5h-27.6zM891.4,357.8l13.8,23.5h-27.6zM892,354.8l13.8,23.5h-27.6zM894.1,351.7l13.8,23.5h-27.6zM894.4,348.6l13.8,23.5h-27.6zM894.3,345.5l13.8,23.5h-27.6zM895.3,342.4l13.8,23.5h-27.6zM896.1,339.3l13.8,23.5h-27.6zM897.5,336.1l13.8,23.5h-27.6zM898.6,333l13.8,23.5h-27.6zM900.4,329.9l13.8,23.5h-27.6zM901.7,326.7l13.8,23.5h-27.6zM901.8,323.6l13.8,23.5h-27.6zM903.4,320.4l13.8,23.5h-27.6zM904.6,317.2l13.8,23.5h-27.6zM906.4,314.1l13.8,23.5h-27.6zM906.1,310.9l13.8,23.5h-27.6zM908.2,307.7l13.8,23.5h-27.6zM908.3,304.5l13.8,23.5h-27.6zM910,301.3l13.8,23.5h-27.6zM909.8,298.1l13.8,23.5h-27.6zM911.6,294.8l13.8,23.5h-27.6zM913.3,291.6l13.8,23.5h-27.6zM914.5,288.3l13.8,23.5h-27.6zM915.1,285.1l13.8,23.5h-27.6zM916.1,281.8l13.8,23.5h-27.6zM918.1,278.5l13.8,23.5h-27.6zM919.2,275.2l13.8,23.5h-27.6zM920.1,271.9l13.8,23.5h-27.6zM920.9,268.5l13.8,23.5h-27.6zM923,265.2l13.8,23.5h-27.6zM923.5,261.8l13.8,23.5h-27.6zM925.1,258.4l13.8,23.5h-27.6zM925.8,255l13.8,23.5h-27.6zM927.7,251.6l13.8,23.5h-27.6zM928.2,248.1l13.8,23.5h-27.6zM929.4,244.7l13.8,23.5h-27.6zM930.4,241.2l13.8,23.5h-27.6zM931.5,237.7l13.8,23.5h-27.6zM931.5,234.1l13.8,23.5h-27.6zM933,230.5l13.8,23.5h-27.6zM934.7,226.9l13.8,23.5h-27.6zM936.1,223.3l13.8,23.5h-27.6zM936.8,219.6l13.8,23.5h-27.6zM937.1,215.9l13.8,23.5h-27.6zM938.7,212.2l13.8,23.5h-27.6zM940,208.4l13.8,23.5h-27.6zM941.4,204.6l13.8,23.5h-27.6zM942.2,200.8l13.8,23.5h-27.6zM942.3,196.9l13.8,23.5h-27.6zM942.8,192.9l13.8,23.5h-27.6zM943.8,188.9l13.8,23.5h-27.6zM944.8,184.9l13.8,23.5h-27.6zM946.1,180.8l13.8,23.5h-27.6zM946.9,176.6l13.8,23.5h-27.6zM948.4,172.4l13.8,23.5h-27.6zM949.5,168.1l13.8,23.5h-27.6zM951.8,163.7l13.8,23.5h-27.6zM953.7,159.2l13.8,23.5h-27.6zM954.9,154.7l13.8,23.5h-27.6zM955.7,150.1l13.8,23.5h-27.6zM956.1,145.3l13.8,23.5h-27.6zM956.8,140.5l13.8,23.5h-27.6zM957.2,135.5l13.8,23.5h-27.6zM958.9,130.5l13.8,23.5h-27.6zM960.7,125.2l13.8,23.5h-27.6zM963,119.8l13.8,23.5h-27.6zM962.7,114.2l13.8,23.5h-27.6zM964,108.4l13.8,23.5h-27.6zM965.2,102.4l13.8,23.5h-27.6zM965.1,109.3l13.8,23.5h-27.6zM965.1,116.1l13.8,23.5h-27.6zM965,122.8l13.8,23.5h-27.6zM964.7,129.6l13.8,23.5h-27.6zM964,136.3l13.8,23.5h-27.6z" fill="#0000ff"/>
<rect x="139.7" y="2.1" width="1189.4" height="960.9" fill="none" stroke="#000" stroke-width="4"/>
<g stroke="#4472c4" stroke-width="7.5" fill="none" stroke-dasharray="29.6 22.1">
<path d="M903,963L910.25,336.5"/>
<path d="M915.5,341H185"/>
<path d="M907,593.3H163"/>
<path d="M904,768.4H163"/>
</g>
<g fill="#4472c4">
<path d="M163.1,341l21.6,-10.7v21.4z"/>
<path d="M142.3,593.5l21.4,-10.8v21.6z"/>
<path d="M140.4,768.4l21,-10.3v20.6z"/>
</g>
<rect x="212.7" y="67.8" width="366.3" height="167.9" fill="#fff" stroke="#2a2a2a" stroke-width="1.6"/>
<path d="M220.5,96.8H324" stroke="#333" stroke-width="1.6"/>
<path d="M220.5,153.1H324" stroke="#ff0000" stroke-width="1.6"/>
<path d="M220.5,208.7H324" stroke="#0000ff" stroke-width="1.6"/>
<rect x="261" y="86.4" width="21.2" height="21.2" fill="#000"/>
<circle cx="272.1" cy="152.3" r="11.3" fill="#ff0000"/>
<path d="M272.7,192.8l14.7,25.1h-29.4z" fill="#0000ff"/>
<g font-size="47">
<text x="334" y="113.3">SR-CRT-0</text>
<text x="334" y="168.8">SR-CRT-30</text>
<text x="334" y="224.8">SR-CRT-50</text>
</g>
<g font-size="37.5" text-anchor="end">
<text x="128.6" y="903.5">0.0</text>
<text x="128.6" y="766.9">0.2</text>
<text x="128.6" y="629.2">0.4</text>
<text x="128.6" y="492.5">0.6</text>
<text x="128.6" y="353.5">0.8</text>
<text x="128.6" y="216.9">1.0</text>
<text x="128.6" y="79.2">1.2</text>
</g>
<g font-size="37.5">
<text x="213.9" y="1002">0</text>
<text x="383.5" y="1002" letter-spacing="2">100</text>
<text x="553" y="1002" letter-spacing="2">200</text>
<text x="723.1" y="1002" letter-spacing="2">300</text>
<text x="892.4" y="1002" letter-spacing="2">400</text>
<text x="1062.3" y="1002" letter-spacing="2">500</text>
<text x="1232.2" y="1002" letter-spacing="2">600</text>
</g>
<text x="770" y="1063" font-size="44" text-anchor="middle">Strain (%)</text>
<text transform="translate(33.9,512.5) rotate(-90)" font-size="45" text-anchor="middle">Stress, MPs</text>
</svg></body></html>
